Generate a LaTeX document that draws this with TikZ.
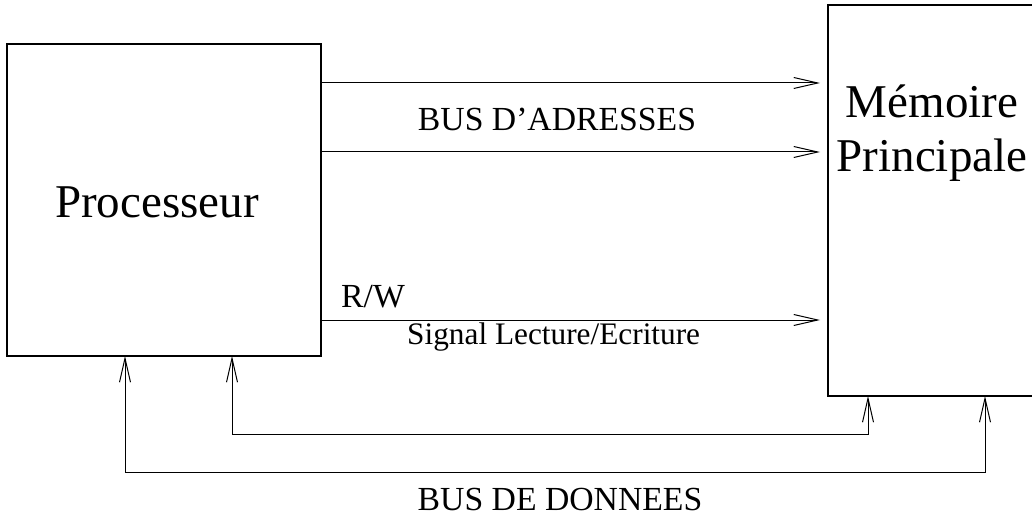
\documentclass[tikz,border=0pt]{standalone}
\usepackage{fontspec}
\setmainfont{Liberation Serif}
\usetikzlibrary{arrows.meta}
\begin{document}
\begin{tikzpicture}[x=1pt,y=-1pt,
  box/.style={draw, line width=2pt, inner sep=0pt, outer sep=0pt, anchor=north west},
  conn/.style={line width=1pt, -{Straight Barb[length=24pt,width=11pt,line width=1pt]}},
  biconn/.style={line width=1pt, {Straight Barb[length=24pt,width=11pt,line width=1pt]}-{Straight Barb[length=24pt,width=11pt,line width=1pt]}},
  big/.style={font=\fontsize{47}{54}\selectfont},
  lab/.style={font=\fontsize{33.7}{40}\selectfont, inner sep=0pt},
  small/.style={font=\fontsize{31.3}{37}\selectfont, inner sep=0pt}]
\clip (0,0) rectangle (1032,518);
\fill[white] (0,0) rectangle (1032,518);
\node[box, minimum width=314pt, minimum height=312pt,
  label={[big, xshift=-7pt, yshift=-2pt]center:Processeur}] (proc) at (7,44) {};
\node[box, minimum width=208pt, minimum height=391pt] (mem) at (828,5) {};
\node[big, align=center, anchor=north, inner sep=0pt] (memtext) at (932,85) {Mémoire\\Principale};
% horizontal connectors
\coordinate (h1) at (0,83);
\coordinate (h2) at (0,152);
\coordinate (h3) at (0,320);
\draw[conn, shorten >=8pt] (proc.east |- h1) -- (mem.west |- h1);
\draw[conn, shorten >=8pt] (proc.east |- h2) -- (mem.west |- h2);
\draw[conn, shorten >=8pt] (proc.east |- h3) -- (mem.west |- h3);
\node[lab, anchor=base] (busa) at (557,131) {BUS D'ADRESSES};
\node[lab, anchor=base west] (rw) at (341,307) {R/W};
\node[small, anchor=base west] (sig) at (407,344) {Signal Lecture/Ecriture};
% data bus
\coordinate (a1) at (232,434);
\coordinate (a2) at (868,434);
\coordinate (b1) at (125,472);
\coordinate (b2) at (985,472);
\draw[biconn] (proc.south -| a1) -- (a1) -- (a2) -- (mem.south -| a2);
\draw[biconn] (proc.south -| b1) -- (b1) -- (b2) -- (mem.south -| b2);
\node[lab, anchor=base] (busd) at (560,510) {BUS DE DONNEES};
\end{tikzpicture}
\end{document}
